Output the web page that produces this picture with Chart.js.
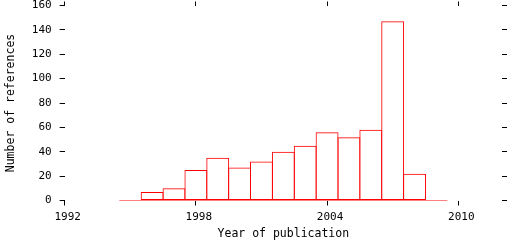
<!DOCTYPE html>
<html>
<head>
<meta charset="utf-8">
<script src="https://cdn.jsdelivr.net/npm/chart.js@4.4.0/dist/chart.umd.min.js"></script>
<style>
  html, body { margin: 0; padding: 0; background: #fff; }
  #wrap { width: 512px; height: 240px; overflow: hidden; }
  #histChart { display: block; margin-top: -8px; }
</style>
</head>
<body>
<div id="wrap"><canvas id="histChart" width="512" height="248"></canvas></div>
<script>
// publication year bins and counts
var years = [1995, 1996, 1997, 1998, 1999, 2000, 2001, 2002, 2003, 2004, 2005, 2006, 2007, 2008, 2009];
var counts = [0, 7, 10, 25, 35, 27, 32, 40, 45, 56, 52, 58, 147, 22, 0];
var xTicks = [1992, 1998, 2004, 2010];
var yTicks = [0, 20, 40, 60, 80, 100, 120, 140, 160];

window.onload = function() {
    Chart.defaults.font.family = "'DejaVu Sans Mono', monospace";
    Chart.defaults.font.size = 11;
    Chart.defaults.color = '#000';

    var barData = years.map(function(yr, i) { return { x: yr, y: counts[i] }; });
    // zero line under the whole histogram, from the first bin's left edge to the last bin's right edge
    var baseLine = [
        { x: years[0] - 0.5, y: 0 },
        { x: years[years.length - 1] + 0.5, y: 0 }
    ];

    var tickGrid = {
        display: true,
        offset: false,
        drawOnChartArea: false,
        drawTicks: true,
        tickLength: 5,
        tickColor: '#000',
        tickWidth: 1
    };

    var ctx = document.getElementById('histChart').getContext('2d');
    var histChart = new Chart(ctx, {
        type: 'bar',
        data: {
            datasets: [{
                type: 'bar',
                data: barData,
                backgroundColor: 'rgba(0,0,0,0)',
                borderColor: '#ff0000',
                borderWidth: 1,
                borderSkipped: false,
                inflateAmount: 0,
                barPercentage: 1.046,
                categoryPercentage: 1
            }, {
                type: 'line',
                data: baseLine,
                borderColor: '#ff0000',
                borderWidth: 1,
                pointRadius: 0,
                fill: false
            }]
        },
        options: {
            responsive: false,
            animation: false,
            layout: { padding: { top: 0, right: 5, bottom: 0, left: 4 } },
            plugins: {
                legend: { display: false },
                tooltip: { enabled: false }
            },
            scales: {
                x: {
                    type: 'linear',
                    position: 'bottom',
                    offset: false,
                    min: 1992,
                    max: 2012,
                    grid: tickGrid,
                    border: { display: false },
                    afterBuildTicks: function(axis) {
                        axis.ticks = xTicks.map(function(v) { return { value: v }; });
                    },
                    ticks: {
                        padding: 6,
                        labelOffset: 3,
                        maxRotation: 0,
                        font: { lineHeight: 1 },
                        callback: function(v) { return String(v); }
                    },
                    title: {
                        display: true,
                        text: 'Year of publication',
                        font: { size: 11.5, lineHeight: 1 },
                        padding: { top: 0, bottom: 0 }
                    }
                },
                x2: {
                    type: 'linear',
                    position: 'top',
                    offset: false,
                    min: 1992,
                    max: 2012,
                    grid: Object.assign({}, tickGrid, { tickLength: 4 }),
                    border: { display: false },
                    afterBuildTicks: function(axis) {
                        axis.ticks = xTicks.map(function(v) { return { value: v }; });
                    },
                    ticks: { display: false }
                },
                y: {
                    position: 'left',
                    min: 0,
                    max: 160,
                    grid: tickGrid,
                    border: { display: false },
                    afterBuildTicks: function(axis) {
                        axis.ticks = yTicks.map(function(v) { return { value: v }; });
                    },
                    ticks: { padding: 8, font: { lineHeight: 1 } },
                    title: {
                        display: true,
                        text: 'Number of references',
                        font: { size: 11.5 },
                        padding: { top: 0, bottom: 6 }
                    }
                },
                y2: {
                    position: 'right',
                    min: 0,
                    max: 160,
                    grid: tickGrid,
                    border: { display: false },
                    afterBuildTicks: function(axis) {
                        axis.ticks = yTicks.map(function(v) { return { value: v }; });
                    },
                    ticks: { display: false }
                }
            }
        }
    });
};
</script>
</body>
</html>
